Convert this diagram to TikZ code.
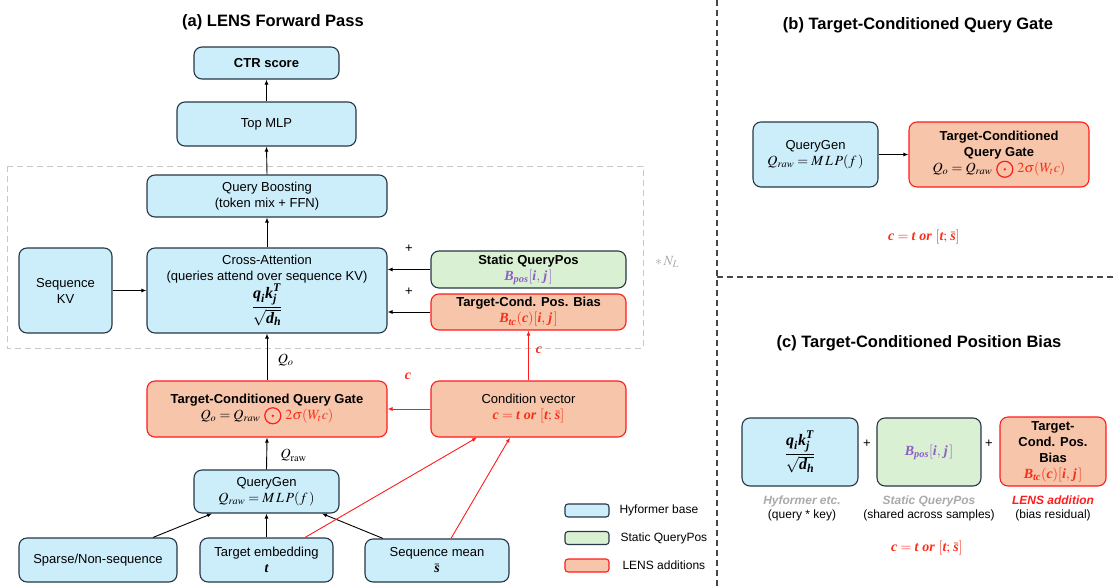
\documentclass[tikz,border=0pt]{standalone}
\usepackage{amsmath}
\usepackage{mathptmx}
\usepackage[no-math]{fontspec}
\setmainfont{Liberation Sans}
\newfontfamily\tbifam{Liberation Serif}
\newcommand{\bi}[1]{\text{\tbifam\bfseries\itshape #1}}
\usetikzlibrary{arrows.meta,calc}
\definecolor{bluefill}{RGB}{204,237,250}
\definecolor{darkline}{RGB}{38,55,70}
\definecolor{greenfill}{RGB}{217,241,210}
\definecolor{redfill}{RGB}{246,197,170}
\definecolor{redline}{RGB}{255,28,28}
\definecolor{redtxt}{RGB}{250,45,25}
\definecolor{purp}{RGB}{142,92,200}
\definecolor{lgray}{RGB}{200,200,200}
\definecolor{mgray}{RGB}{170,170,170}
\definecolor{divline}{RGB}{70,70,70}
\newcommand{\rodot}{\tikz[baseline=-3.3pt]{\draw[redline,line width=1.2pt] (0pt,0pt) circle (8pt); \fill[redline] (0pt,0pt) circle (1.3pt);}}
\newcommand{\mf}{\fontsize{14}{16}\selectfont}
\newcommand{\fracf}{\fontsize{16}{18}\selectfont}
\newcommand{\attfrac}{$\dfrac{\bi{q}_{\bi{i}}\bi{k}_{\bi{j}}^{\bi{T}}}{\sqrt{\bi{d}_{\bi{h}}}}$}
\newcommand{\cdef}{$\bi{c} = \bi{t}\ \bi{or}\ [\bi{t};\,\bar{\bi{s}}]$}
\newcommand{\bpos}{$\bi{B}_{\bi{pos}}[\bi{i},\,\bi{j}\,]$}
\newcommand{\btc}{$\bi{B}_{\bi{tc}}(\bi{c})[\bi{i},\,\bi{j}\,]$}
\tikzset{
  every node/.style={font=\fontsize{13}{16}\selectfont},
  basebox/.style={draw, rounded corners=8pt, line width=1.1pt, align=center, inner sep=0pt},
  bluebox/.style={basebox, draw=darkline, fill=bluefill},
  greenbox/.style={basebox, draw=darkline, fill=greenfill},
  redbox/.style={basebox, draw=redline, fill=redfill},
  arr/.style={-{Latex[length=5pt,width=4pt]}, line width=0.9pt, black},
  rarr/.style={-{Latex[length=5pt,width=4pt]}, line width=0.9pt, redline},
  ttl/.style={font=\fontsize{16.5}{20}\selectfont\bfseries},
  lbl/.style={font=\fontsize{12}{14}\selectfont},
}
\begin{document}
\begin{tikzpicture}[x=1pt,y=-1pt]
\useasboundingbox (0,0) rectangle (1113,586);

% ---------- panel (a) ----------
\node[ttl] (ta) at (273,22) {(a) LENS Forward Pass};
\draw[lgray, line width=1pt, dash pattern=on 6pt off 4pt] (7,166) rectangle (643,348);
\node[text=mgray] (nl) at (667,262) {\mf$*\,N_L$};

\node[bluebox, minimum width=145, minimum height=32] (ctr) at (266.5,63) {\bfseries CTR score};
\node[bluebox, minimum width=179, minimum height=44] (top) at (266.5,124) {Top MLP};
\node[bluebox, minimum width=240, minimum height=42] (qb) at (267,196) {Query Boosting\\(token mix + FFN)};
\node[bluebox, minimum width=93, minimum height=85] (kv) at (65.5,290.5) {Sequence\\KV};
\node[bluebox, minimum width=240, minimum height=85] (ca) at (267,290.5)
  {Cross-Attention\\(queries attend over sequence KV)\\[0pt] {\fracf\attfrac}};
\node[greenbox, minimum width=195, minimum height=37] (sqp) at (528.5,269.5)
  {\bfseries Static QueryPos\\ {\mf\textcolor{purp}{\bpos}}};
\node[redbox, minimum width=195, minimum height=36] (tcpb) at (528.5,312)
  {\bfseries Target-Cond. Pos. Bias\\ {\mf\textcolor{redtxt}{\btc}}};
\node[redbox, minimum width=240, minimum height=56] (tcqg) at (267,409)
  {\bfseries Target-Conditioned Query Gate\\ {\mf$Q_o = Q_{raw}$ \rodot\ \textcolor{redtxt}{$2\sigma(W_t c)$}}};
\node[redbox, minimum width=195, minimum height=56] (cv) at (528.5,409)
  {Condition vector\\ {\mf\textcolor{redtxt}{\cdef}}};
\node[bluebox, minimum width=145, minimum height=43] (qg) at (266.5,491.5)
  {QueryGen\\ {\mf$Q_{raw} = M\,L\,P(f\,)$}};
\node[bluebox, minimum width=158, minimum height=44] (sp) at (98,560) {Sparse/Non-sequence};
\node[bluebox, minimum width=133, minimum height=44] (te) at (266.5,560) {Target embedding\\ {\mf$\bi{t}$}};
\node[bluebox, minimum width=144, minimum height=43] (sm) at (437,560.5) {Sequence mean\\ {\mf$\bar{\bi{s}}$}};

\draw[arr] (top.north) -- (ctr.south);
\draw[arr] (qb.north) -- (top.south);
\draw[arr] (ca.north) -- (qb.south);
\draw[arr] (tcqg.north) -- node[right, xshift=7pt, yshift=-3pt] {\mf$Q_o$} (ca.south);
\draw[arr] (qg.north) -- node[right, xshift=10pt, yshift=-2pt] {\mf$Q_{\mathrm{raw}}$} (tcqg.south);
\draw[arr] (kv.east) -- (kv.east -| ca.west);
\draw[arr] (sqp.west) -- (sqp.west -| ca.east);
\draw[arr] (tcpb.west) -- (tcpb.west -| ca.east);
\node (p1) at (409,249) {+};
\node (p2) at (409,292) {+};
\draw[rarr] (cv.west) -- (cv.west -| tcqg.east);
\draw[rarr] (cv.north -| tcpb.south) -- (tcpb.south);
\node[text=redtxt] (c1) at (539,350) {\mf$\bi{c}$};
\node[text=redtxt] (c2) at (408,376) {\mf$\bi{c}$};
\draw[arr] ([xshift=55pt]sp.north) -- ([xshift=-54.5pt]qg.south);
\draw[arr] (te.north) -- (qg.south);
\draw[arr] ([xshift=-54pt]sm.north) -- ([xshift=55.5pt]qg.south);
\draw[rarr] ([xshift=38.5pt]te.north) -- ([xshift=-51.5pt]cv.south);
\draw[rarr] ([xshift=14pt]sm.north) -- ([xshift=-18.5pt]cv.south);

% legend
\node[bluebox, rounded corners=3pt, minimum width=44, minimum height=13] (lg1) at (587,510.5) {};
\node[greenbox, rounded corners=3pt, minimum width=44, minimum height=13] (lg2) at (587,538) {};
\node[redbox, rounded corners=3pt, minimum width=44, minimum height=13] (lg3) at (587,565.5) {};
\node[lbl, anchor=west] (lt1) at (616,510.5) {Hyformer base};
\node[lbl, anchor=west] (lt2) at (617,538) {Static QueryPos};
\node[lbl, anchor=west] (lt3) at (619,565.5) {LENS additions};

% dividers
\draw[divline, line width=1.2pt, dash pattern=on 6pt off 4pt] (717,0) -- (717,586);
\draw[divline, line width=1.2pt, dash pattern=on 6pt off 4pt] (717,277) -- (1113,277);

% ---------- panel (b) ----------
\node[ttl] (tb) at (918,25) {(b) Target-Conditioned Query Gate};
\node[bluebox, minimum width=125, minimum height=65] (qgb) at (815.5,154.5) {QueryGen\\ {\mf$Q_{raw} = M\,L\,P(f\,)$}};
\node[redbox, minimum width=180, minimum height=65] (tgb) at (999,154.5)
  {\bfseries Target-Conditioned\\ \bfseries Query Gate\\ {\mf$Q_o = Q_{raw}$ \rodot\ \textcolor{redtxt}{$2\sigma(W_t c)$}}};
\draw[arr] (qgb.east) -- (tgb.west);
\node[text=redtxt] (cb) at (924,237) {\mf\cdef};

% ---------- panel (c) ----------
\node[ttl] (tc) at (919,343) {(c) Target-Conditioned Position Bias};
\node[bluebox, minimum width=116, minimum height=68] (cb1) at (800,452) {{\fracf\attfrac}};
\node (pc1) at (867,444) {+};
\node[greenbox, minimum width=104, minimum height=68] (cb2) at (929,452) {{\mf\textcolor{purp}{\bpos}}};
\node (pc2) at (989,444) {+};
\node[redbox, minimum width=106, minimum height=69] (cb3) at (1053,451.5)
  {\bfseries Target-\\ \bfseries Cond. Pos.\\ \bfseries Bias\\ {\mf\textcolor{redtxt}{\btc}}};
\node[lbl, align=center] (l1) at (802,508) {\textcolor{mgray}{\bfseries\itshape Hyformer etc.}\\(query * key)};
\node[lbl, align=center] (l2) at (929,508) {\textcolor{mgray}{\bfseries\itshape Static QueryPos}\\(shared across samples)};
\node[lbl, align=center] (l3) at (1053,508) {\textcolor{redline}{\bfseries\itshape LENS addition}\\(bias residual)};
\node[text=redtxt] (cc) at (927,548) {\mf\cdef};
\end{tikzpicture}
\end{document}
